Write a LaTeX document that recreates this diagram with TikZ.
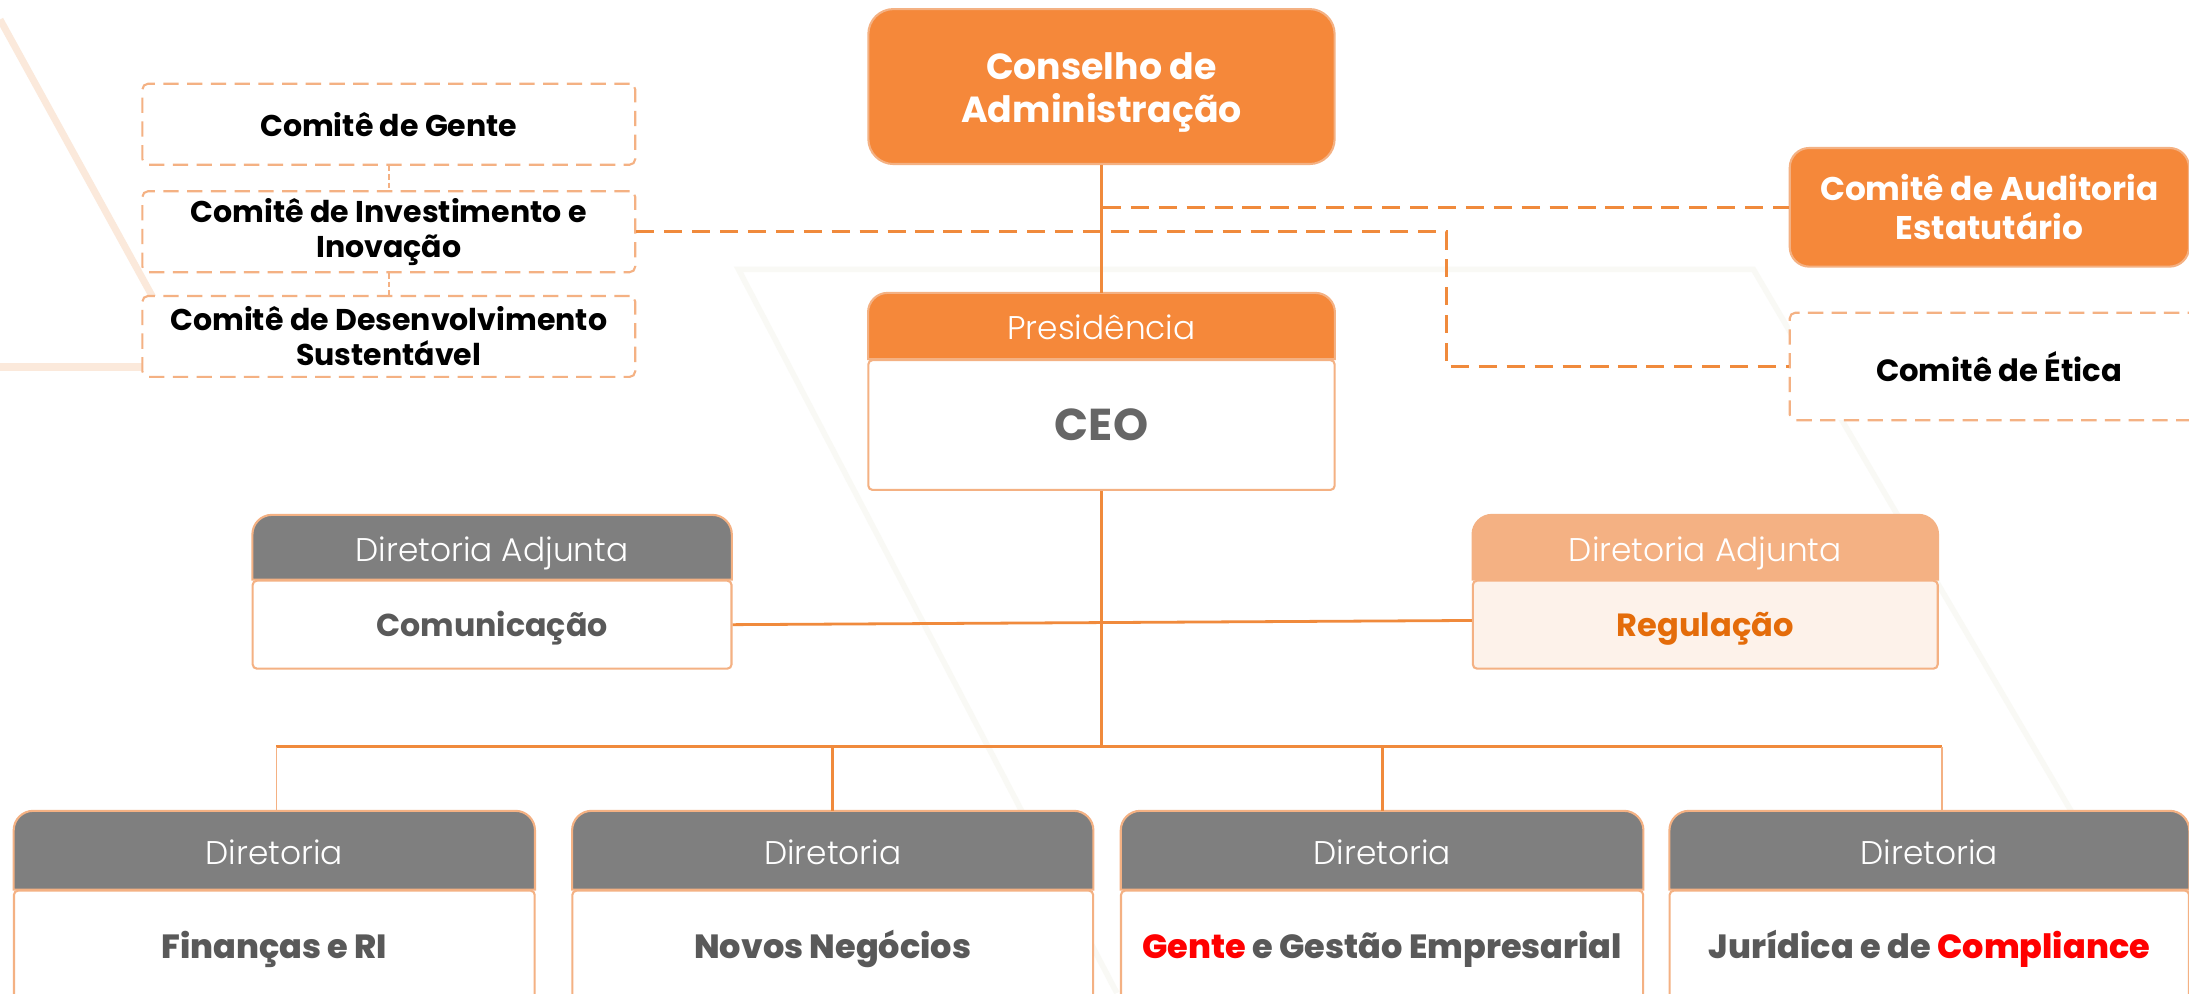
\documentclass[tikz,border=0pt]{standalone}
\usepackage{fontspec}
\setmainfont{Poppins}
\newfontfamily\popL{Poppins}[UprightFont=* Light]
\newfontfamily\popB{Poppins}[UprightFont=* Bold]
\newfontfamily\popXB{Poppins}[UprightFont=* ExtraBold]
\usetikzlibrary{backgrounds}
\definecolor{org}{HTML}{F5883A}
\definecolor{orgline}{HTML}{F08A3C}
\definecolor{bord}{HTML}{F4B183}
\definecolor{hgray}{HTML}{7F7F7F}
\definecolor{txtgray}{HTML}{595959}
\definecolor{ceogray}{HTML}{666666}
\definecolor{lorg}{HTML}{F4B183}
\definecolor{regtxt}{HTML}{E46C0A}
\definecolor{regfill}{HTML}{FDF2EA}
\definecolor{beige}{HTML}{FBE9DB}
\definecolor{faint}{HTML}{F9F9F5}
\definecolor{pured}{HTML}{FF0000}
\tikzset{
  hdtext/.style={text=white, font=\popL\fontsize{23.5}{27}\selectfont, inner sep=0pt, text height=20pt, text depth=0pt},
  bodybox/.style={draw=bord, line width=1.5pt, fill=white, rounded corners=3pt, inner sep=0pt, text height=17pt, text depth=0pt},
  bodyextra/.style={},
  comm/.style={draw=bord, line width=1.5pt, dash pattern=on 11pt off 6pt, fill=white, rounded corners=4pt, align=center, text=black, font=\popB\fontsize{21.5}{25}\selectfont, inner sep=0pt},
  conn/.style={draw=orgline, line width=2pt},
  thinconn/.style={draw=bord, line width=1.2pt},
  dconn/.style={draw=orgline, line width=2pt, dash pattern=on 13pt off 7pt},
  sdconn/.style={draw=bord, line width=1.2pt, dash pattern=on 4pt off 2pt},
  topbox/.style={fill=org, draw=bord, line width=1.5pt, text=white, align=center, inner sep=0pt}
}
% #1 name, #2 centre x, #3 top y, #4 width, #5 head height, #6 body height, #7 head colour, #8 head text, #9 body text
\newcommand\orgcard[9]{%
  \node[hdtext, minimum width=#4pt, minimum height=#5pt] (#1h) at (#2, #3+#5/2) {#8};
  \begin{scope}[on background layer]
    \filldraw[draw=bord, line width=1.5pt, fill=#7] (#1h.south west) [rounded corners=14pt] -- (#1h.north west) -- (#1h.north east) [sharp corners] -- (#1h.south east) -- cycle;
  \end{scope}
  \node[bodybox, bodyextra, minimum width=#4pt, minimum height=#6pt, anchor=north] (#1) at (#1h.south) {#9};
}
\begin{document}
\begin{tikzpicture}[x=1pt, y=-1pt]
\useasboundingbox (0,0) rectangle (1568,711.3);
\begin{scope}[on background layer]
  \fill[white] (0,0) rectangle (1568,711.3);
  \draw[beige, line width=5pt] (0,14) -- (137,263);
  \draw[beige, line width=6pt] (0,263) -- (102,263);
  \draw[faint, line width=4pt] (800,711.3) -- (529,193) -- (1256,193) -- (1560,711.3);
\end{scope}

% Board
\node[topbox, rounded corners=18pt, minimum width=334pt, minimum height=111pt] (cons) at (789,62) {};
\node[text=white, align=center, inner sep=0pt, font=\popB\fontsize{26}{31}\selectfont] (consT) at (789,66) {Conselho de\\Administração};

% Committees (left)
\node[comm, minimum width=353pt, minimum height=58pt] (gen) at (278.5,89) {Comitê de Gente};
\node[comm, minimum width=353pt, minimum height=58pt] (inv) at (278.5,166) {Comitê de Investimento e\\Inovação};
\node[comm, minimum width=353pt, minimum height=58pt] (des) at (278.5,241) {Comitê de Desenvolvimento\\Sustentável};

% Committees (right)
\node[topbox, rounded corners=14pt, minimum width=286pt, minimum height=85pt, font=\popB\fontsize{23.5}{28}\selectfont] (aud) at (1425,148.5) {Comitê de Auditoria\\Estatutário};
\node[comm, minimum width=300pt, minimum height=77pt, font=\popB\fontsize{22}{26}\selectfont] (eti) at (1432,262.5) {Comitê de Ética};

% Presidency
\tikzset{bodyextra/.style={text height=22.5pt}}
\orgcard{pres}{789}{210}{334}{47}{93}{org}{Presidência}{\popB\fontsize{32}{36}\selectfont\color{ceogray}CEO}
\tikzset{bodyextra/.style={}}

% Deputy directorates
\orgcard{com}{352.5}{369}{343}{46}{63}{hgray}{Diretoria Adjunta}{\popB\fontsize{22.7}{26}\selectfont\color{txtgray}Comunicação}
\tikzset{bodyextra/.style={fill=regfill}}
\orgcard{reg}{1221.5}{369}{333}{46}{63}{lorg}{Diretoria Adjunta}{\popB\fontsize{23}{26}\selectfont\color{regtxt}Regulação}
\tikzset{bodyextra/.style={}}

% Directorates
\orgcard{dfin}{196.5}{581}{373}{56}{80}{hgray}{Diretoria}{\popXB\fontsize{24}{28}\selectfont\color{txtgray}Finanças e RI}
\orgcard{dnov}{596.5}{581}{373}{56}{80}{hgray}{Diretoria}{\popXB\fontsize{24}{28}\selectfont\color{txtgray}Novos Negócios}
\orgcard{dgen}{990}{581}{374}{56}{80}{hgray}{Diretoria}{\popXB\fontsize{24}{28}\selectfont\color{txtgray}{\color{pured}Gente} e Gestão Empresarial}
\orgcard{djur}{1382}{581}{372}{56}{80}{hgray}{Diretoria}{\popXB\fontsize{24}{28}\selectfont\color{txtgray}Jurídica e de {\color{pured}Compliance}}

% Connectors
\coordinate (audj) at (790,148.5);
\coordinate (ej) at (1036,166);
\coordinate (bus) at (789,535);
\coordinate (busL) at (198,535);
\coordinate (busR) at (1391,535);
\draw[conn] (cons.south) -- (presh.north);
\draw[dconn] (audj) -- (aud.west);
\draw[dconn] (inv.east) -- (ej) |- (eti.west);
\draw[sdconn] (gen.south) -- (inv.north);
\draw[sdconn] (inv.south) -- (des.north);
\draw[conn] (pres.south) -- (bus);
\draw[conn] (com.east) -- ([yshift=3pt]reg.west);
\draw[conn] (busL) -- (busR);
\draw[thinconn] (busL) -- (busL |- dfinh.north);
\draw[conn] (bus -| dnovh.north) -- (dnovh.north);
\draw[conn] (bus -| dgenh.north) -- (dgenh.north);
\draw[thinconn] (busR) -- (busR |- djurh.north);
\end{tikzpicture}
\end{document}
